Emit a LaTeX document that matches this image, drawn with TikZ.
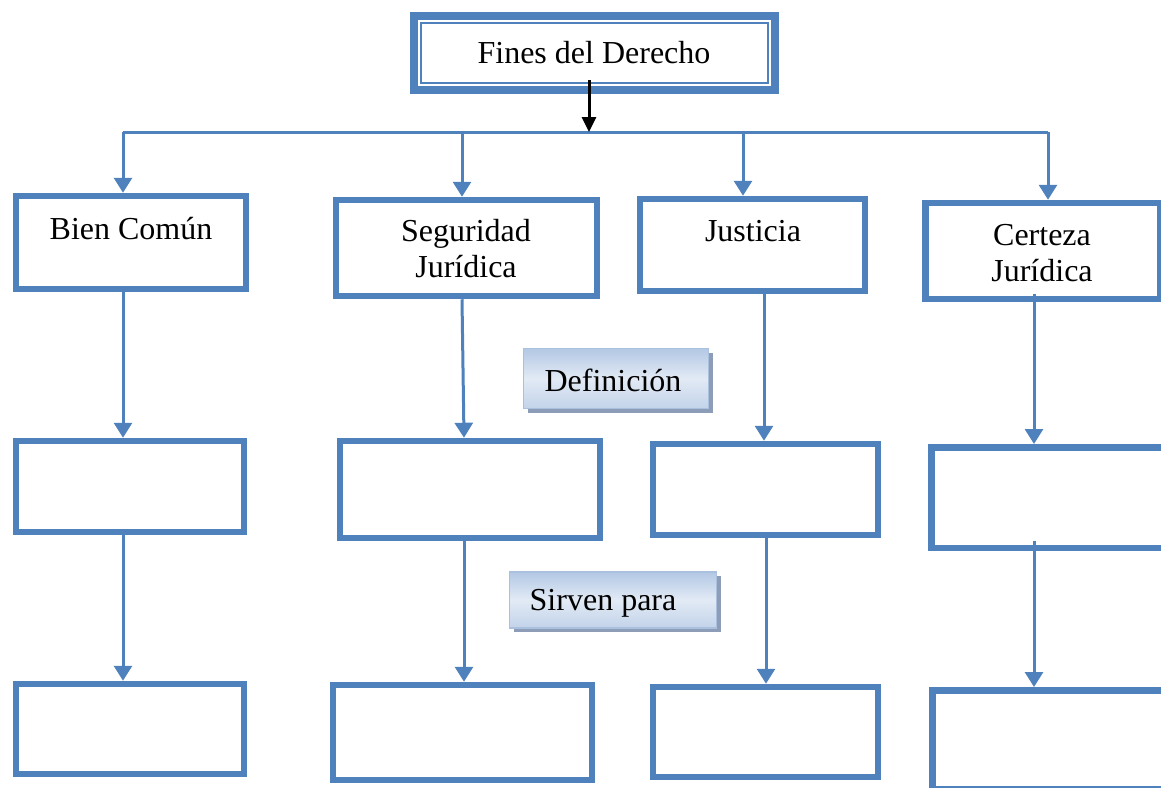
\documentclass[tikz,border=0pt]{standalone}
\usepackage{fontspec}
\setmainfont{Liberation Serif}
\usetikzlibrary{arrows.meta,shadows}
\definecolor{obl}{HTML}{4F81BD}
\definecolor{gedge}{HTML}{B3C8E4}
\definecolor{gmid}{HTML}{E2EAF5}
\definecolor{gbord}{HTML}{A9C0DF}
\definecolor{gshad}{HTML}{8E9DB7}
\tikzset{
  box/.style={draw=obl, line width=6.5pt, fill=white, inner sep=0pt},
  conn/.style={draw=obl, line width=3pt},
  arr/.style={conn, -{Triangle[length=15pt,width=18pt]}},
  blackarr/.style={draw=black, line width=3pt, -{Triangle[length=15pt,width=14pt]}},
  lbl/.style={font=\fontsize{32}{36}\selectfont, inner sep=0pt, align=center},
  gbox/.style={draw=gbord, line width=1.5pt, top color=gedge, bottom color=gedge!80!white, middle color=gmid, inner sep=0pt,
    drop shadow={shadow xshift=4pt, shadow yshift=-4pt, fill=gshad, opacity=1}},
}
\begin{document}
\begin{tikzpicture}[x=1pt,y=-1pt]
\useasboundingbox (0,0) rectangle (1161,787);
% top box
\node[draw=obl, line width=8pt, fill=white, inner sep=0pt, minimum width=361pt, minimum height=74pt] (top) at (594.5,53) {};
\draw[draw=obl, line width=1.5pt] ([shift={(11,11)}]top.north west) rectangle ([shift={(-11,-11)}]top.south east);
\node[lbl] (ttop) at (594,53) {Fines del Derecho};
% row 1
\node[box, minimum width=230pt, minimum height=93pt] (b1) at (131,242.5) {};
\node[box, minimum width=261pt, minimum height=96pt] (s1) at (466.5,248) {};
\node[box, minimum width=225pt, minimum height=92pt] (j1) at (752.5,245) {};
\node[box, minimum width=235pt, minimum height=96pt] (c1) at (1042.75,251) {};
% row 2
\node[box, minimum width=228pt, minimum height=91pt] (b2) at (130,486.5) {};
\node[box, minimum width=260pt, minimum height=97pt] (s2) at (470,489.5) {};
\node[box, minimum width=225pt, minimum height=91pt] (j2) at (765.5,489.5) {};
\node[box, minimum width=237.5pt, minimum height=100.5pt] (c2) at (1050,497.5) {};
% row 3
\node[box, minimum width=228pt, minimum height=90pt] (b3) at (130,729) {};
\node[box, minimum width=259pt, minimum height=95pt] (s3) at (462.5,732.5) {};
\node[box, minimum width=225pt, minimum height=90pt] (j3) at (765.5,732) {};
\node[box, minimum width=236.5pt, minimum height=98.5pt] (c3) at (1050.5,739.5) {};
% labels
\node[lbl] (tb1) at (131,229) {Bien Común};
\node[lbl] (ts1) at (466,249) {Seguridad\\Jurídica};
\node[lbl] (tj1) at (753,231) {Justicia};
\node[lbl] (tc1) at (1042,253) {Certeza\\Jurídica};
% gradient boxes
\node[gbox, minimum width=185pt, minimum height=60pt] (def) at (616,378.5) {};
\node[lbl] (tdef) at (613,380) {Definición};
\node[gbox, minimum width=207pt, minimum height=56pt] (sir) at (613,600) {};
\node[lbl] (tsir) at (603,603) {Sirven para};
% bus
\coordinate (bus1) at (123,132);
\coordinate (bus2) at (462,132);
\coordinate (bus3) at (743,132);
\coordinate (bus4) at (1048,132);
\coordinate (busmid) at (589,132);
\draw[conn] (bus1) -- (bus4);
\draw[blackarr] ([xshift=-5.5pt,yshift=14pt]top.south) -- (busmid);
\draw[arr] (bus1) -- (bus1 |- b1.north);
\draw[arr] (bus2) -- (bus2 |- s1.north);
\draw[arr] (bus3) -- (bus3 |- j1.north);
\draw[arr] (bus4) -- (bus4 |- c1.north);
% column arrows
\draw[arr] ([xshift=-8pt]b1.south) -- ([xshift=-7pt]b2.north);
\draw[arr] ([xshift=-7pt]b2.south) -- ([xshift=-7pt]b3.north);
\draw[arr] ([xshift=-4.5pt]s1.south) -- ([xshift=-6pt]s2.north);
\draw[arr] ([xshift=-6pt]s2.south) -- ([xshift=1.5pt]s3.north);
\draw[arr] ([xshift=11.5pt]j1.south) -- ([xshift=-1.5pt]j2.north);
\draw[arr] ([xshift=0.5pt]j2.south) -- ([xshift=0.5pt]j3.north);
\draw[arr] ([xshift=-8.75pt,yshift=8pt]c1.south) -- ([xshift=-16pt]c2.north);
\draw[arr] ([xshift=-16pt,yshift=10pt]c2.south) -- ([xshift=-16.5pt]c3.north);
\end{tikzpicture}
\end{document}
